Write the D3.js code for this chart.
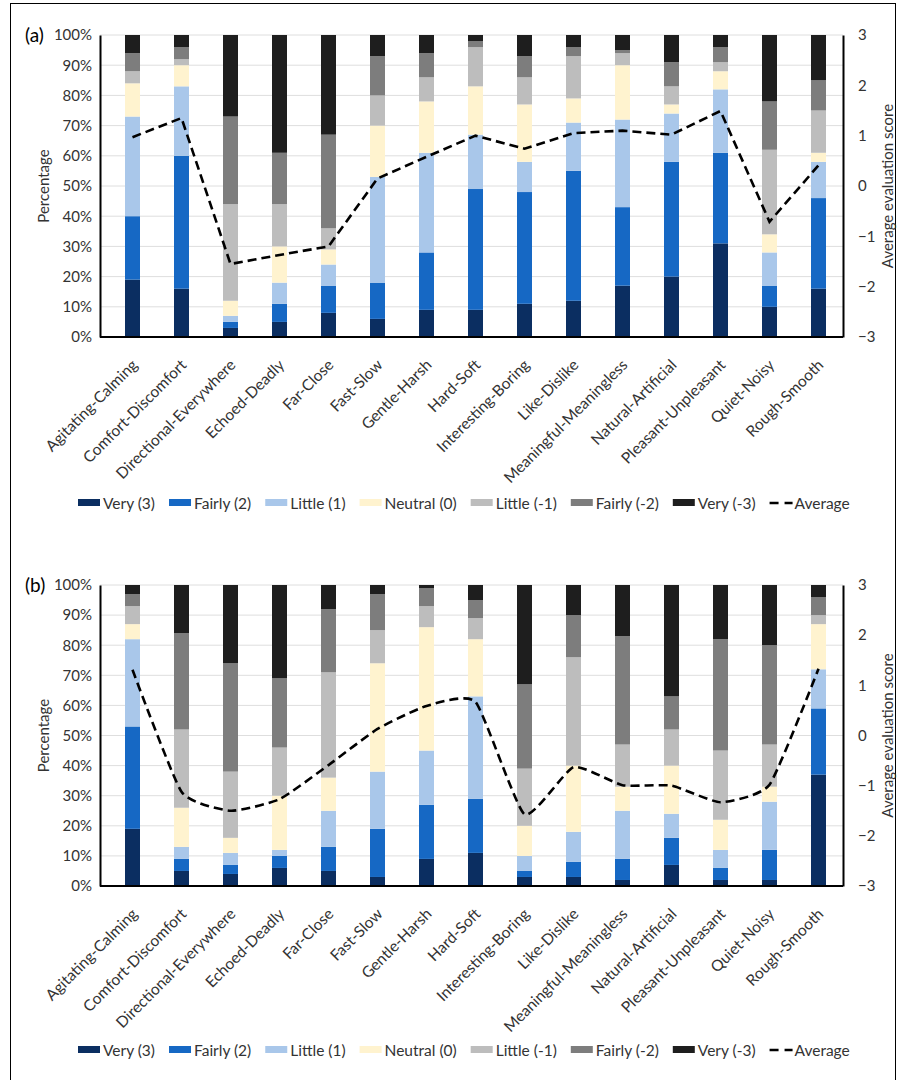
<!DOCTYPE html>
<html>
<head>
<meta charset="utf-8">
<script src="https://cdn.jsdelivr.net/npm/d3@7"></script>
<style>
  body { margin: 0; background: #fff; }
  svg { display: block; font-family: Lato, "Open Sans", sans-serif; }
</style>
</head>
<body>
<svg id="chart" width="902" height="1080"></svg>
<script>
// ---------- DATA ----------
const categories = ["Agitating-Calming", "Comfort-Discomfort", "Directional-Everywhere", "Echoed-Deadly",
  "Far-Close", "Fast-Slow", "Gentle-Harsh", "Hard-Soft", "Interesting-Boring", "Like-Dislike",
  "Meaningful-Meaningless", "Natural-Artificial", "Pleasant-Unpleasant", "Quiet-Noisy", "Rough-Smooth"];

const seriesNames = ["Very (3)", "Fairly (2)", "Little (1)", "Neutral (0)", "Little (-1)", "Fairly (-2)", "Very (-3)"];
const averageName = "Average";

const pctTicks = [0, 10, 20, 30, 40, 50, 60, 70, 80, 90, 100];
const scoreTicks = [-3, -2, -1, 0, 1, 2, 3];

// Panel (a)
const aVery3    = [19, 16,  3,  5,  8,  6,  9,  9, 11, 12, 17, 20, 31, 10, 16];
const aFairly2  = [21, 44,  2,  6,  9, 12, 19, 40, 37, 43, 26, 38, 30,  7, 30];
const aLittle1  = [33, 23,  2,  7,  7, 35, 33, 18, 10, 16, 29, 16, 21, 11, 12];
const aNeutral  = [11,  7,  5, 12,  5, 17, 17, 16, 19,  8, 18,  3,  6,  6,  3];
const aLittleN1 = [ 4,  2, 32, 14,  7, 10,  8, 13,  9, 14,  4,  6,  3, 28, 14];
const aFairlyN2 = [ 6,  4, 29, 17, 31, 13,  8,  2,  7,  3,  1,  8,  5, 16, 10];
const aVeryN3   = [ 6,  4, 27, 39, 33,  7,  6,  2,  7,  4,  5,  9,  4, 22, 15];
const aAverage  = [0.97, 1.35, -1.55, -1.37, -1.2, 0.15, 0.58, 1.0, 0.74, 1.05, 1.1, 1.02, 1.49, -0.71, 0.41];

// Panel (b)
const bVery3    = [19,  5,  4,  6,  5,  3,  9, 11,  3,  3,  2,  7,  2,  2, 37];
const bFairly2  = [34,  4,  3,  4,  8, 16, 18, 18,  2,  5,  7,  9,  4, 10, 22];
const bLittle1  = [29,  4,  4,  2, 12, 19, 18, 34,  5, 10, 16,  8,  6, 16, 13];
const bNeutral  = [ 5, 13,  5, 18, 11, 36, 41, 19, 10, 22,  8, 16, 10,  5, 15];
const bLittleN1 = [ 6, 26, 22, 16, 35, 11,  7,  7, 19, 36, 14, 12, 23, 14,  3];
const bFairlyN2 = [ 4, 32, 36, 23, 21, 12,  6,  6, 28, 14, 36, 11, 37, 33,  6];
const bVeryN3   = [ 3, 16, 26, 31,  8,  3,  1,  5, 33, 10, 17, 37, 18, 20,  4];
const bAverage  = [1.31, -1.12, -1.5, -1.27, -0.59, 0.13, 0.59, 0.67, -1.57, -0.63, -0.99, -1.0, -1.33, -0.98, 1.33];

// ---------- STYLE ----------
const colors = ["#0b2e61", "#1668c4", "#a9c7ea", "#fff3cf", "#bdbdbd", "#7d7d7d", "#1e1e1e"];
const FS = 15;

const svg = d3.select("#chart");
svg.append("rect").attr("x", 10.5).attr("y", 3.5).attr("width", 885).attr("height", 1100)
  .attr("fill", "none").attr("stroke", "#000").attr("stroke-width", 1);

const panels = [
  { tag: "(a)", top: 35, bottom: 337, legendY: 503, smooth: false,
    series: [aVery3, aFairly2, aLittle1, aNeutral, aLittleN1, aFairlyN2, aVeryN3], avg: aAverage },
  { tag: "(b)", top: 585, bottom: 886, legendY: 1050, smooth: true,
    series: [bVery3, bFairly2, bLittle1, bNeutral, bLittleN1, bFairlyN2, bVeryN3], avg: bAverage }
];

const plotLeft = 100, plotRight = 843;

panels.forEach(p => {
  const g = svg.append("g");
  const x = d3.scaleBand().domain(categories).range([108, plotRight])
    .paddingInner(0.694).paddingOuter(0.347);
  const y = d3.scaleLinear().domain([0, 100]).range([p.bottom, p.top]);
  const y2 = d3.scaleLinear().domain([-3, 3]).range([p.bottom, p.top]);

  // gridlines
  g.append("g").selectAll("line").data(pctTicks.slice(1)).join("line")
    .attr("x1", plotLeft).attr("x2", plotRight)
    .attr("y1", d => y(d)).attr("y2", d => y(d))
    .attr("stroke", "#dedede").attr("stroke-width", 1);

  // stacked bars
  const rows = categories.map((c, i) => {
    const o = { cat: c };
    seriesNames.forEach((s, k) => o[s] = p.series[k][i]);
    return o;
  });
  const stacked = d3.stack().keys(seriesNames)(rows);
  g.append("g").selectAll("g").data(stacked).join("g")
    .attr("fill", (d, k) => colors[k])
    .selectAll("rect").data(d => d).join("rect")
    .attr("x", d => x(d.data.cat))
    .attr("width", x.bandwidth())
    .attr("y", d => y(d[1]))
    .attr("height", d => y(d[0]) - y(d[1]));

  // left axis
  const ax = g.append("g").attr("transform", `translate(${plotLeft},0)`)
    .call(d3.axisLeft(y).tickValues(pctTicks).tickFormat(d => d + "%").tickSize(0).tickSizeOuter(0).tickPadding(8));
  ax.select(".domain").attr("stroke", "#000").attr("stroke-width", 2);
  ax.selectAll("text").attr("font-size", FS).attr("fill", "#333").attr("font-family", "Lato");

  // right axis
  const ar = g.append("g").attr("transform", `translate(${plotRight},0)`)
    .call(d3.axisRight(y2).tickValues(scoreTicks).tickFormat(d3.format("d")).tickSize(0).tickSizeOuter(0).tickPadding(15));
  ar.select(".domain").attr("stroke", "#000").attr("stroke-width", 2);
  ar.selectAll("text").attr("font-size", FS).attr("fill", "#333").attr("font-family", "Lato");

  // bottom axis
  const ab = g.append("g").attr("transform", `translate(0,${p.bottom})`)
    .call(d3.axisBottom(x).tickSize(0).tickSizeOuter(0).tickPadding(0));
  ab.select(".domain").attr("stroke", "#000").attr("stroke-width", 2)
    .attr("d", `M${plotLeft},0H${plotRight}`);
  ab.selectAll(".tick text")
    .attr("font-size", 15.5).attr("fill", "#333").attr("font-family", "Lato")
    .attr("text-anchor", "end").attr("dy", null).attr("y", 0)
    .attr("transform", "translate(6,29) rotate(-45)");

  // average line
  const line = d3.line()
    .x((d, i) => x(categories[i]) + x.bandwidth() / 2)
    .y(d => y2(d))
    .curve(p.smooth ? d3.curveCardinal.tension(0.5) : d3.curveLinear);
  g.append("path").datum(p.avg).attr("d", line)
    .attr("fill", "none").attr("stroke", "#000").attr("stroke-width", 2.6)
    .attr("stroke-dasharray", "9,5");

  // axis titles
  g.append("text").attr("transform", `translate(49,${(p.top + p.bottom) / 2}) rotate(-90)`)
    .attr("text-anchor", "middle").attr("font-size", FS).attr("fill", "#333").text("Percentage");
  g.append("text").attr("transform", `translate(893,${(p.top + p.bottom) / 2}) rotate(-90)`)
    .attr("text-anchor", "middle").attr("font-size", FS).attr("fill", "#333").text("Average evaluation score");

  // panel tag
  g.append("text").attr("x", 25).attr("y", p.top + 7).attr("font-size", 19).attr("fill", "#000").text(p.tag);

  // legend
  const lg = g.append("g").attr("transform", `translate(0,${p.legendY})`);
  let cx = 78;
  seriesNames.forEach((s, k) => {
    lg.append("rect").attr("x", cx).attr("y", -4).attr("width", 22).attr("height", 7).attr("fill", colors[k]);
    const t = lg.append("text").attr("x", cx + 25).attr("y", 5.5).attr("font-size", 15.5).attr("fill", "#333").text(s);
    cx += 25 + t.node().getComputedTextLength() + 14;
  });
  lg.append("line").attr("x1", cx).attr("x2", cx + 23).attr("y1", 0).attr("y2", 0)
    .attr("stroke", "#000").attr("stroke-width", 2.6).attr("stroke-dasharray", "9,6");
  lg.append("text").attr("x", cx + 25).attr("y", 5.5).attr("font-size", 15.5).attr("fill", "#333").text(averageName);
});
</script>
</body>
</html>
